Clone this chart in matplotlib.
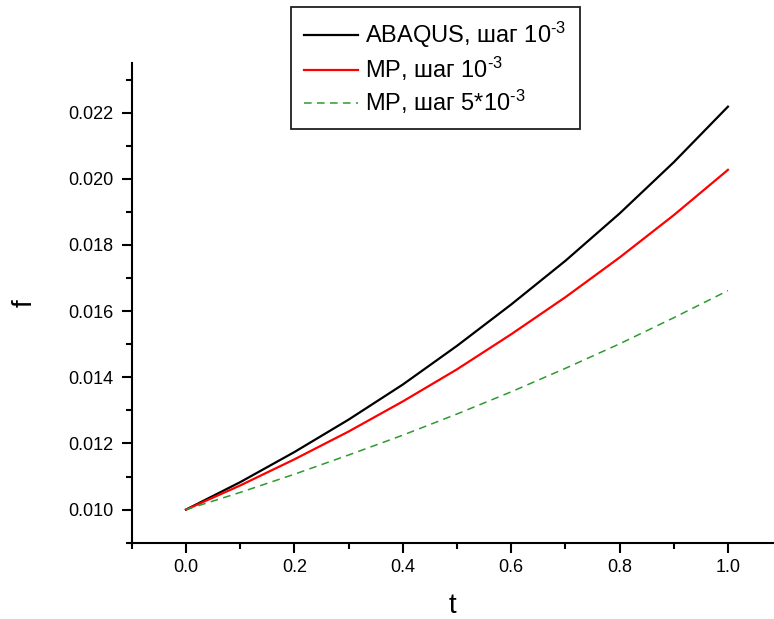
import matplotlib
matplotlib.use("Agg")
import matplotlib.pyplot as plt
from matplotlib.ticker import MultipleLocator, FormatStrFormatter

plt.rcParams['font.family'] = ['Liberation Sans', 'DejaVu Sans']
plt.rcParams['mathtext.default'] = 'regular'

t = [0.0, 0.1, 0.2, 0.3, 0.4, 0.5, 0.6, 0.7, 0.8, 0.9, 1.0]
f_abaqus = [0.01000, 0.01083, 0.01174, 0.01272, 0.01378, 0.01495, 0.01620, 0.01752, 0.01895, 0.02050, 0.02218]
f_mp_1 = [0.01000, 0.01073, 0.01152, 0.01236, 0.01327, 0.01424, 0.01530, 0.01642, 0.01762, 0.01890, 0.02027]
f_mp_5 = [0.01000, 0.01052, 0.01107, 0.01165, 0.01225, 0.01289, 0.01356, 0.01427, 0.01501, 0.01580, 0.01662]

labels = ["ABAQUS, шаг 10$^{\u20103}$", "MP, шаг 10$^{\u20103}$", "MP, шаг 5*10$^{\u20103}$"]

W, H = 774, 619
fig = plt.figure(figsize=(W / 100, H / 100), dpi=100)
ax = fig.add_axes([131.8 / W, 1 - 542.7 / H, (W - 131.8) / W, (542.7 - 63) / H])

ax.plot(t, f_abaqus, color='black', lw=1.6, label=labels[0])
ax.plot(t, f_mp_1, color='#ff0000', lw=1.6, label=labels[1])
ax.plot(t, f_mp_5, color='#2e9a2e', lw=1.1, dashes=(5, 3.5), label=labels[2])

ax.set_xlim(-0.1, 1.085)
ax.set_ylim(0.009, 0.0235)

ax.xaxis.set_minor_locator(MultipleLocator(0.1))
ax.yaxis.set_minor_locator(MultipleLocator(0.001))
ax.set_xticks([0.0, 0.2, 0.4, 0.6, 0.8, 1.0])
ax.set_yticks([0.010, 0.012, 0.014, 0.016, 0.018, 0.020, 0.022])
ax.xaxis.set_major_formatter(FormatStrFormatter('%.1f'))
ax.yaxis.set_major_formatter(FormatStrFormatter('%.3f'))

for s in ['top', 'right']:
    ax.spines[s].set_visible(False)
for s in ['left', 'bottom']:
    ax.spines[s].set_linewidth(1.5)

ax.tick_params(axis='both', which='major', direction='out', length=7, width=1.5,
               labelsize=13, pad=6)
ax.tick_params(axis='both', which='minor', direction='out', length=4, width=1.5)
ax.tick_params(axis='x', which='major', pad=5)

ax.set_xlabel('t', fontsize=20, labelpad=12)
ax.set_ylabel('f', fontsize=20, labelpad=22)

leg = ax.legend(loc='upper left', bbox_to_anchor=(291 / W, 1 - 7 / H),
                bbox_transform=fig.transFigure, fontsize=17, frameon=True,
                fancybox=False, edgecolor='#202020', framealpha=1,
                handlelength=2.3, handletextpad=0.3, labelspacing=0.2,
                borderpad=0.55, borderaxespad=0)
leg.get_frame().set_linewidth(1.3)

fig.savefig('out.png', dpi=100)
